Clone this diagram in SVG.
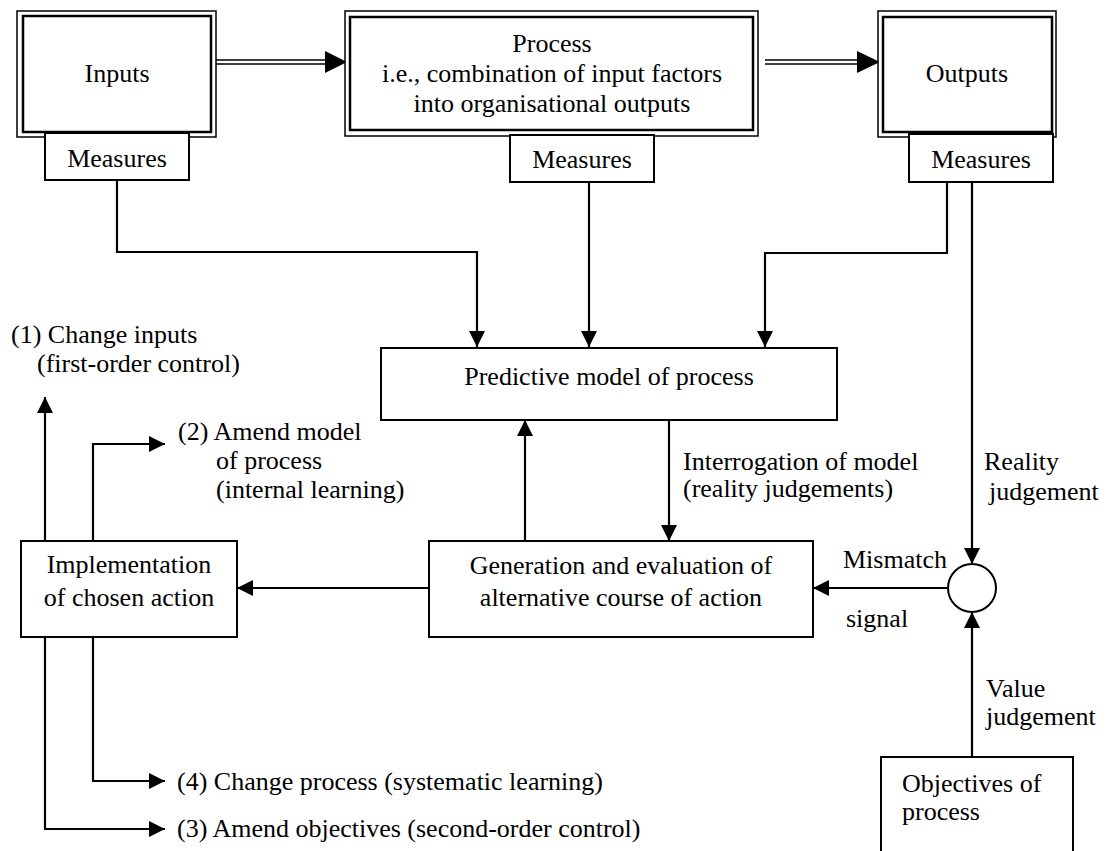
<svg xmlns="http://www.w3.org/2000/svg" width="1112" height="851" viewBox="0 0 1112 851">
<style>
text{font-family:"Liberation Serif","Times New Roman",serif;font-size:26px;fill:#000}
.c{text-anchor:middle}
.box{fill:#fff;stroke:#000;stroke-width:2}
.outer{fill:#fff;stroke:#000;stroke-width:1.5}
.inner{fill:none;stroke:#000;stroke-width:2.5}
.ln{fill:none;stroke:#000;stroke-width:2.2}
.dl{stroke:#000;stroke-width:1.6}
</style>
<defs>
<marker id="ah" markerUnits="userSpaceOnUse" viewBox="0 0 16 16" markerWidth="16" markerHeight="16" refX="16" refY="8" orient="auto">
<path d="M0,0 L16,8 L0,16 Z" fill="#000"/>
</marker>
</defs>

<g id="connectors">
<line class="dl" x1="213" y1="60" x2="327" y2="60"/>
<line class="dl" x1="213" y1="64" x2="327" y2="64"/>
<polygon points="325,51 347,62 325,73" fill="#000"/>
<line class="dl" x1="765" y1="60" x2="859" y2="60"/>
<line class="dl" x1="765" y1="64" x2="859" y2="64"/>
<polygon points="857,51 880,62 857,73" fill="#000"/>
<polyline class="ln" points="117,180 117,252 477,252 477,347" marker-end="url(#ah)"/>
<polyline class="ln" points="589,182 589,347" marker-end="url(#ah)"/>
<polyline class="ln" points="947,182 947,253 765,253 765,347" marker-end="url(#ah)"/>
<polyline class="ln" points="972,182 972,564" marker-end="url(#ah)"/>
<polyline class="ln" points="525,541 525,420" marker-end="url(#ah)"/>
<polyline class="ln" points="669,420 669,541" marker-end="url(#ah)"/>
<polyline class="ln" points="948,588 813,588" marker-end="url(#ah)"/>
<polyline class="ln" points="429,588 237,588" marker-end="url(#ah)"/>
<polyline class="ln" points="972,757 972,612" marker-end="url(#ah)"/>
<polyline class="ln" points="45,541 45,397" marker-end="url(#ah)"/>
<polyline class="ln" points="93,541 93,444 165,444" marker-end="url(#ah)"/>
<polyline class="ln" points="93,637 93,781 165,781" marker-end="url(#ah)"/>
<polyline class="ln" points="45,637 45,829 165,829" marker-end="url(#ah)"/>
</g>

<g id="inputs">
<rect class="outer" x="17" y="11" width="199" height="126"/>
<rect class="inner" x="23" y="16" width="188" height="116"/>
<text class="c" x="117" y="82">Inputs</text>
</g>
<g id="inputs-measures">
<rect class="box" x="45" y="133" width="144" height="47"/>
<text class="c" x="117" y="167">Measures</text>
</g>

<g id="process">
<rect class="outer" x="345" y="11" width="413" height="125"/>
<rect class="inner" x="350" y="17" width="403" height="113"/>
<text class="c" x="552" y="52">Process</text>
<text class="c" x="552" y="82">i.e., combination of input factors</text>
<text class="c" x="552" y="112">into organisational outputs</text>
</g>
<g id="process-measures">
<rect class="box" x="510" y="135" width="144" height="47"/>
<text class="c" x="582" y="168">Measures</text>
</g>

<g id="outputs">
<rect class="outer" x="878" y="11" width="178" height="126"/>
<rect class="inner" x="883" y="17" width="169" height="115"/>
<text class="c" x="967" y="82">Outputs</text>
</g>
<g id="outputs-measures">
<rect class="box" x="909" y="134" width="144" height="48"/>
<text class="c" x="981" y="168">Measures</text>
</g>

<g id="predictive-model">
<rect class="box" x="381" y="348" width="456" height="72"/>
<text class="c" x="609" y="385">Predictive model of process</text>
</g>

<g id="generation">
<rect class="box" x="429" y="541" width="384" height="96"/>
<text class="c" x="621" y="574">Generation and evaluation of</text>
<text class="c" x="621" y="606">alternative course of action</text>
</g>

<g id="implementation">
<rect class="box" x="21" y="541" width="216" height="96"/>
<text class="c" x="129" y="573">Implementation</text>
<text class="c" x="129" y="606">of chosen action</text>
</g>

<g id="comparator">
<circle cx="972" cy="588" r="24" fill="#fff" stroke="#000" stroke-width="2"/>
</g>

<g id="objectives">
<rect class="box" x="881" y="757" width="192" height="110"/>
<text x="902" y="792">Objectives of</text>
<text x="902" y="820">process</text>
</g>

<g id="labels">
<text x="11" y="343">(1) Change inputs</text>
<text x="37" y="372">(first-order control)</text>
<text x="178" y="440">(2) Amend model</text>
<text x="216" y="469">of process</text>
<text x="216" y="498">(internal learning)</text>
<text x="683" y="470">Interrogation of model</text>
<text x="683" y="497">(reality judgements)</text>
<text x="984" y="470">Reality</text>
<text x="989" y="500">judgement</text>
<text x="843" y="568">Mismatch</text>
<text x="846" y="627">signal</text>
<text x="986" y="697">Value</text>
<text x="986" y="725">judgement</text>
<text x="177" y="790">(4) Change process (systematic learning)</text>
<text x="177" y="837">(3) Amend objectives (second-order control)</text>
</g>
</svg>
